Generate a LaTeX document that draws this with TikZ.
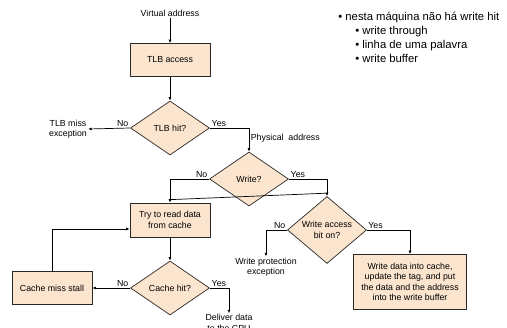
\documentclass[tikz,border=0pt]{standalone}
\usepackage{fontspec}
\setmainfont{Liberation Sans}
\usepackage{tikz}
\usetikzlibrary{shapes.geometric,arrows.meta,positioning}
\definecolor{boxfill}{RGB}{252,229,206}
\definecolor{boxline}{RGB}{40,40,40}
\tikzset{
  step box/.style = {shape=rectangle, draw=boxline, fill=boxfill,
                     line width=0.7pt, align=center, inner sep=1pt,
                     },
  test/.style     = {shape=diamond, draw=boxline, fill=boxfill,
                     line width=0.7pt, align=center, inner sep=0pt,
                     minimum width=79pt, minimum height=54pt},
  plain/.style    = {align=center, inner sep=1pt},
  lab/.style      = {inner sep=1.5pt}
}
\newcommand{\flowfont}{\fontsize{8.8}{10.3}\selectfont}

\begin{document}
\begin{tikzpicture}
    [
      x = 1pt, y = -1pt,
      >= {Latex[length=3.5pt,width=3pt]},
      every node/.style = {font=\flowfont},
      line width = 0.7pt
    ]
    \useasboundingbox (0,0) rectangle (507,328);
    % steps and tests
    \node [plain] (virtual) at (170,13) {Virtual address};
    \node [step box, minimum width=80pt, minimum height=33pt] (tlbaccess) at (170,60) {TLB access};
    \node [test] (tlbhit) at (170,128) {TLB hit?};
    \node [plain] (tlbmiss) at (68,129) {TLB miss\\exception};
    \node [test] (write) at (249,179) {Write?};
    \node [step box, minimum width=80pt, minimum height=34pt] (tryread) at (170,220) {Try to read data\\from cache};
    \node [test] (wab) at (327,230) {Write access\\bit on?};
    \node [plain] (protect) at (266,267) {Write protection\\exception};
    \node [step box, minimum width=113pt, minimum height=55pt] (writedata) at (410,282)
      {Write data into cache,\\update the tag, and put\\the data and the address\\into the write buffer};
    \node [test] (cachehit) at (170,288) {Cache hit?};
    \node [step box, minimum width=80pt, minimum height=33pt] (stall) at (52,288) {Cache miss stall};
    \node [plain] (deliver) at (229,323) {Deliver data\\to the CPU};
    % notes
    \node [plain, align=left, anchor=north west, font=\fontsize{11.3}{14}\selectfont] (notes) at (337,11)
      {• nesta máquina não há write hit\\
       \hspace*{17pt}• write through\\
       \hspace*{17pt}• linha de uma palavra\\
       \hspace*{17pt}• write buffer};
    % connectors
    \draw [->] (virtual) -- (tlbaccess);
    \draw [->] (tlbaccess) -- (tlbhit);
    \draw [->] (tlbhit.west) -- node [lab, pos=0, above left] {No} (tlbmiss.east);
    \draw [->] (tlbhit.east) -| node [lab, pos=0, above right] {Yes}
      node [lab, pos=0.72, right] {Physical\ \ address} (write.north);
    \draw [->] (write.west) -| node [lab, pos=0, above left] {No} (tryread.north);
    \draw [->] (write.east) -| node [lab, pos=0, above right] {Yes} (wab.north);
    \draw ([yshift=3pt]tryread.north) -- ([yshift=3pt]wab.north);
    \draw [->] (wab.west) -| node [lab, pos=0, above left] {No} (protect.north);
    \draw [->] (wab.east) -| node [lab, pos=0.1, above] {Yes} (writedata.north);
    \draw [->] (tryread) -- (cachehit);
    \draw [->] (cachehit.west) -- node [lab, pos=0, above left] {No} (stall.east);
    \draw [->] (stall.north) |- ([yshift=-9pt]tryread.west);
    \draw [->] (cachehit.east) -| node [lab, pos=0, above right] {Yes} (deliver.north);
\end{tikzpicture}
\end{document}
